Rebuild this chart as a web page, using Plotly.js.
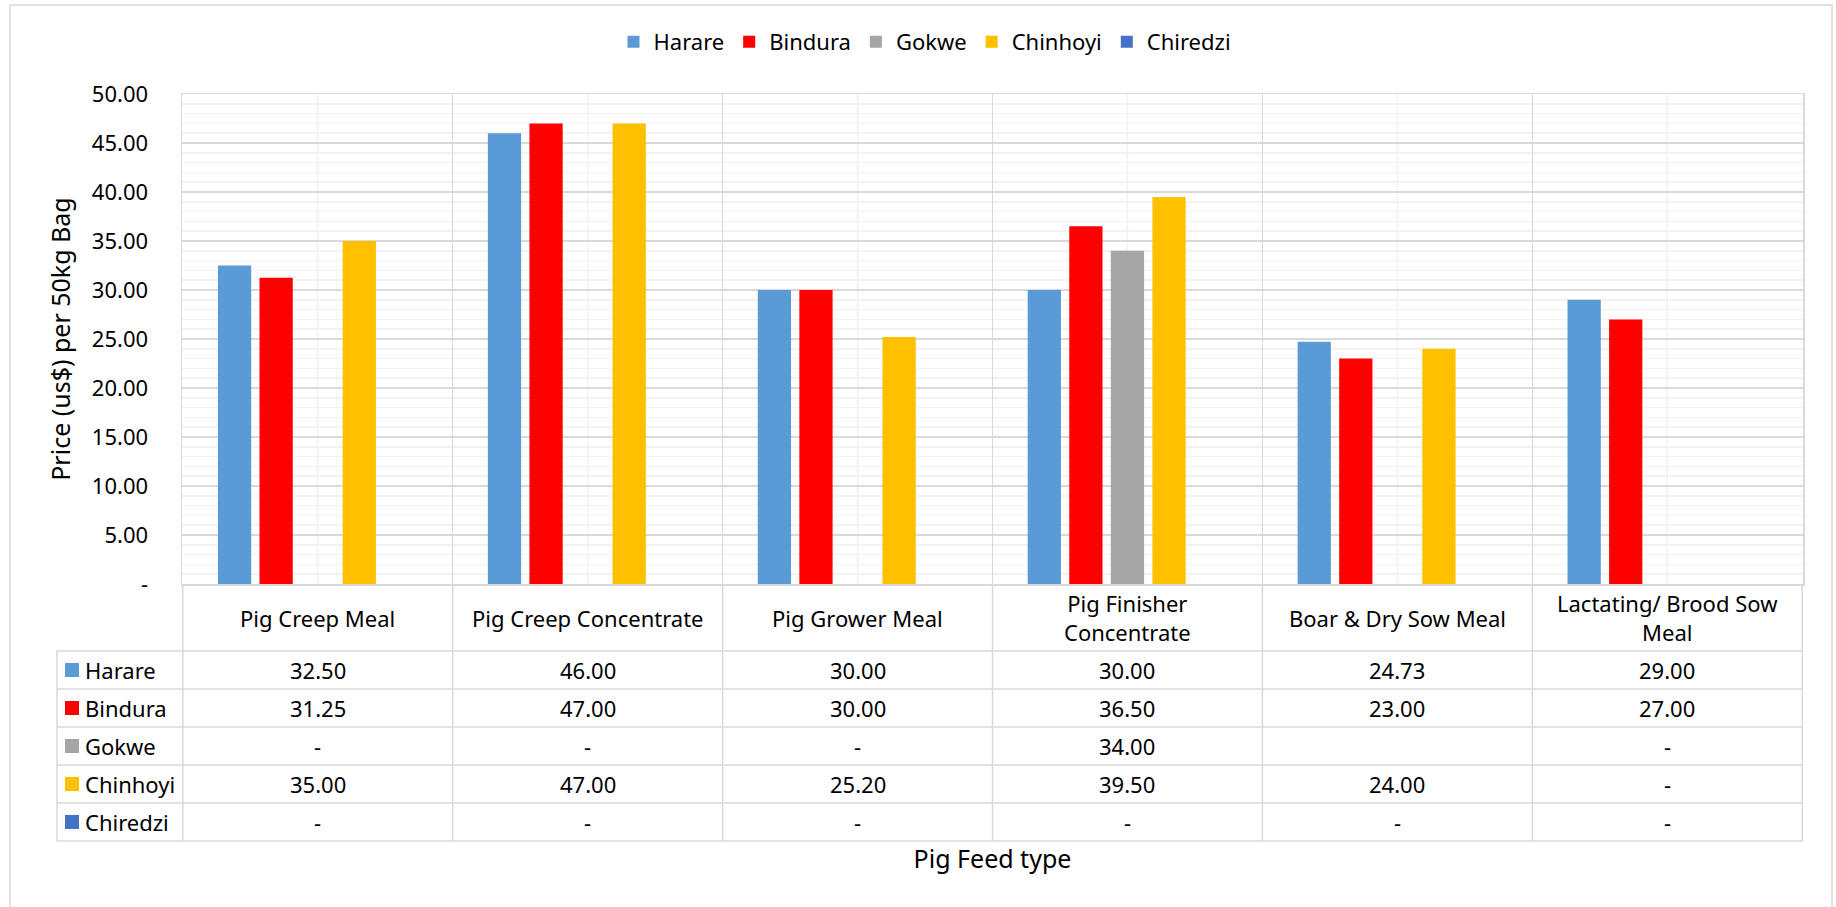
<!DOCTYPE html>
<html><head><meta charset="utf-8">
<script src="https://cdn.plot.ly/plotly-3.0.1.min.js"></script>
<style>html,body{margin:0;padding:0;background:#fff;}#chart{width:1836px;height:907px;}</style>
</head><body><div id="chart"></div>
<script>
// ---- data ----
const categories = ['Pig Creep Meal','Pig Creep Concentrate','Pig Grower Meal','Pig Finisher Concentrate','Boar & Dry Sow Meal','Lactating/ Brood Sow Meal'];
const headerLabels = ['Pig Creep Meal','Pig Creep Concentrate','Pig Grower Meal','Pig Finisher<br>Concentrate','Boar & Dry Sow Meal','Lactating/ Brood Sow<br>Meal'];
const seriesNames = ['Harare','Bindura','Gokwe','Chinhoyi','Chiredzi'];
const harare   = [32.50, 46.00, 30.00, 30.00, 24.73, 29.00];
const bindura  = [31.25, 47.00, 30.00, 36.50, 23.00, 27.00];
const gokwe    = [0, 0, 0, 34.00, null, 0];
const chinhoyi = [35.00, 47.00, 25.20, 39.50, 24.00, 0];
const chiredzi = [0, 0, 0, 0, 0, 0];
const yTickVals = [0, 5, 10, 15, 20, 25, 30, 35, 40, 45, 50];
const yTickText = ['-', '5.00', '10.00', '15.00', '20.00', '25.00', '30.00', '35.00', '40.00', '45.00', '50.00'];
const yTitle = 'Price (us$) per 50kg Bag';
const xTitle = 'Pig Feed type';

// ---- styles / layout helpers ----
const seriesValues = [harare, bindura, gokwe, chinhoyi, chiredzi];
const colors = ['#5B9BD5', '#FF0000', '#A5A5A5', '#FFC000', '#4472C4'];
const W = 1836, H = 907;
const px = v => v / W;
const py = v => 1 - v / H;
const FONT = 'Noto Sans, sans-serif';
const FS = 22, TFS = 25;
const GRID = '#d9d9d9', MINOR = '#f2f2f2';
const plotL = 182, plotR = 1803, plotT = 94, plotB = 584;
const headerBottom = 651, rowH = 38, tableLeft = 57;

const traces = seriesNames.map((name, i) => ({
  type: 'bar', name: name, x: categories, y: seriesValues[i],
  marker: {color: colors[i], line: {width: 0}},
  hoverinfo: 'x+y+name'
}));

const shapes = [];
const annotations = [];

// outer chart border
shapes.push({type: 'rect', xref: 'paper', yref: 'paper', x0: px(10), x1: px(1832), y0: -0.02, y1: py(5),
  line: {color: GRID, width: 1.5}, fillcolor: 'rgba(0,0,0,0)', layer: 'below'});

// minor vertical gridlines at category centres
categories.forEach((c, i) => {
  shapes.push({type: 'line', xref: 'x', yref: 'y', x0: i, x1: i, y0: 0, y1: 50,
    line: {color: MINOR, width: 1.5}, layer: 'below'});
});

// table vertical lines at category boundaries
for (let i = 0; i <= categories.length; i++) {
  shapes.push({type: 'line', xref: 'x', yref: 'paper', x0: i - 0.5, x1: i - 0.5,
    y0: py(plotB), y1: py(headerBottom + rowH * seriesNames.length),
    line: {color: GRID, width: 1.5}});
}
// table left edge
shapes.push({type: 'line', xref: 'paper', yref: 'paper', x0: px(tableLeft), x1: px(tableLeft),
  y0: py(headerBottom), y1: py(headerBottom + rowH * seriesNames.length), line: {color: GRID, width: 1.5}});
// table horizontal lines
for (let k = 0; k <= seriesNames.length; k++) {
  shapes.push({type: 'line', xref: 'paper', yref: 'paper', x0: px(tableLeft), x1: px(plotR),
    y0: py(headerBottom + rowH * k), y1: py(headerBottom + rowH * k), line: {color: GRID, width: 1.5}});
}

// header labels
headerLabels.forEach((lab, i) => {
  annotations.push({xref: 'x', yref: 'paper', x: i, y: py((plotB + headerBottom) / 2),
    text: lab, showarrow: false, xanchor: 'center', yanchor: 'middle',
    font: {family: FONT, size: FS, color: '#000'}});
});

// rows
const fmt = v => v === null ? '' : (v === 0 ? '-' : v.toFixed(2));
seriesNames.forEach((name, r) => {
  const cy = headerBottom + rowH * r + rowH / 2;
  shapes.push({type: 'rect', xref: 'paper', yref: 'paper', x0: px(65), x1: px(79),
    y0: py(cy + 7), y1: py(cy - 7), fillcolor: colors[r], line: {width: 0}});
  annotations.push({xref: 'paper', yref: 'paper', x: px(83), y: py(cy), text: name,
    showarrow: false, xanchor: 'left', yanchor: 'middle', font: {family: FONT, size: FS, color: '#000'}});
  seriesValues[r].forEach((v, i) => {
    annotations.push({xref: 'x', yref: 'paper', x: i, y: py(cy), text: fmt(v),
      showarrow: false, xanchor: 'center', yanchor: 'middle', font: {family: FONT, size: FS, color: '#000'}});
  });
});

const layout = {
  width: W, height: H,
  margin: {l: 0, r: 0, t: 0, b: 0},
  paper_bgcolor: '#fff', plot_bgcolor: '#fff',
  font: {family: FONT, size: FS, color: '#000'},
  barmode: 'group', bargap: 0.23, bargroupgap: 0.2,
  showlegend: true,
  legend: {orientation: 'h', x: px(925), xanchor: 'center', y: py(42), yanchor: 'middle',
    font: {family: FONT, size: FS, color: '#000'}, itemwidth: 30, traceorder: 'normal', bgcolor: 'rgba(0,0,0,0)'},
  xaxis: {
    domain: [px(plotL), px(plotR)], type: 'category', categoryorder: 'array', categoryarray: categories,
    showticklabels: false, ticks: '', showgrid: true, tickson: 'boundaries', gridcolor: GRID, gridwidth: 1.5,
    showline: true, linecolor: GRID, linewidth: 1.5, mirror: true, zeroline: false, fixedrange: true,
    title: {text: xTitle, standoff: 266, font: {family: FONT, size: TFS, color: '#000'}}
  },
  yaxis: {
    domain: [py(plotB), py(plotT)], range: [0, 50], tickmode: 'array', tickvals: yTickVals, ticktext: yTickText,
    ticks: '', ticklabelstandoff: 28, showgrid: true, gridcolor: GRID, gridwidth: 1.5,
    minor: {tickmode: 'linear', tick0: 0, dtick: 1, showgrid: true, gridcolor: MINOR, gridwidth: 1.5, ticks: ''},
    showline: true, linecolor: GRID, linewidth: 1.5, mirror: true, zeroline: false, fixedrange: true,
    tickfont: {family: FONT, size: FS, color: '#000'},
    title: {text: yTitle, standoff: 14, font: {family: FONT, size: TFS, color: '#000'}}
  },
  shapes: shapes,
  annotations: annotations
};

Plotly.newPlot('chart', traces, layout, {displayModeBar: false, staticPlot: true});
</script>
</body></html>
